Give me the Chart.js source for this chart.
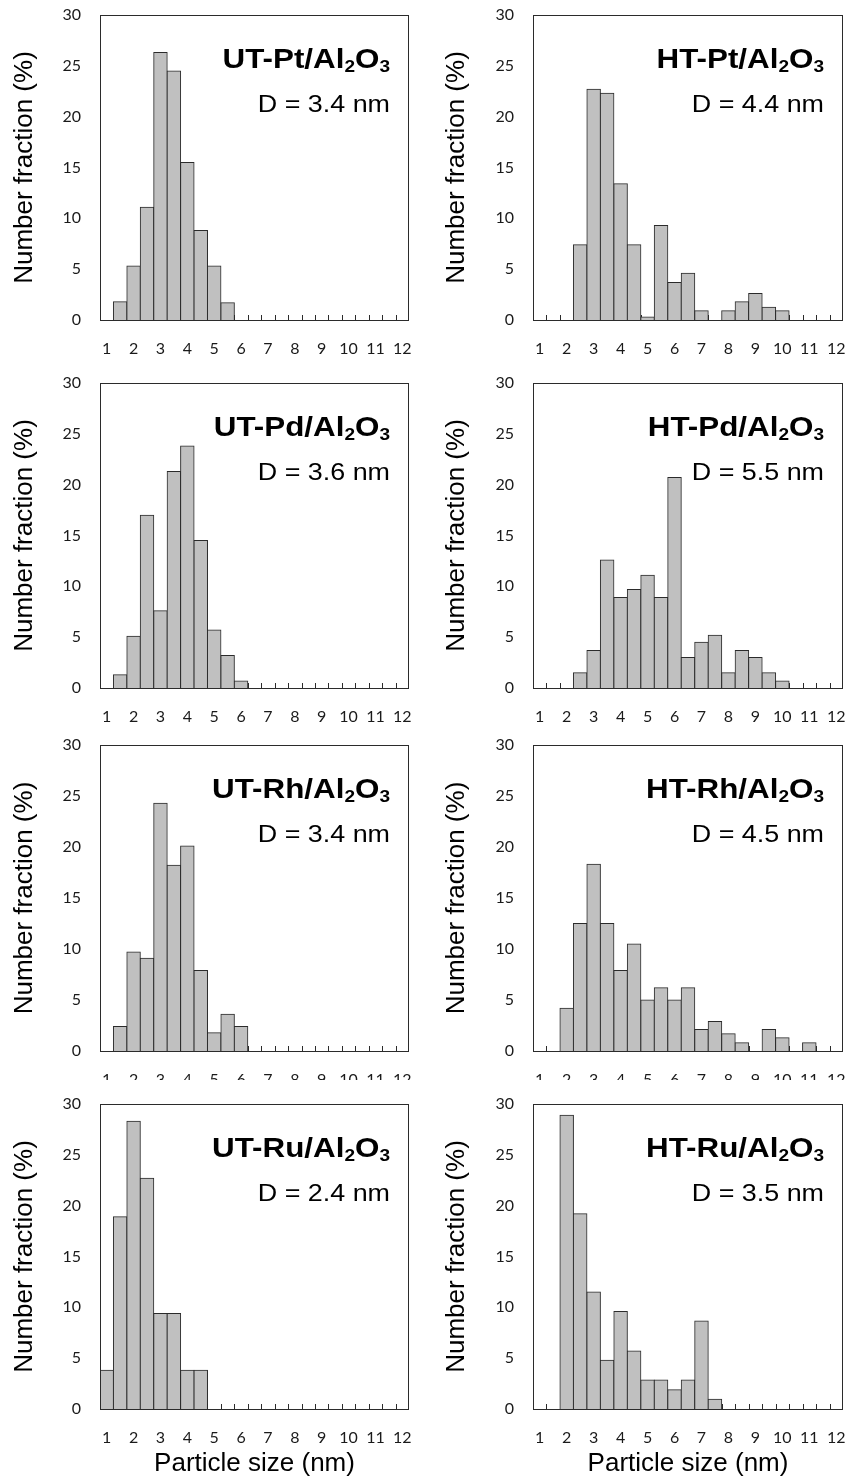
<!DOCTYPE html>
<html>
<head>
<meta charset="utf-8">
<script src="https://cdn.jsdelivr.net/npm/chart.js@4.4.1/dist/chart.umd.min.js"></script>
<style>
  html, body { margin: 0; padding: 0; background: #fff; }
  #page { position: relative; width: 848px; height: 1479px; overflow: hidden; }
  #page canvas { position: absolute; background: #fff; }
</style>
</head>
<body>
<div id="page"></div>
<script>
// size bins (nm), 0.5 nm wide
const sizes = [1, 1.5, 2, 2.5, 3, 3.5, 4, 4.5, 5, 5.5, 6, 6.5, 7, 7.5, 8, 8.5, 9, 9.5, 10, 10.5, 11, 11.5, 12];

// number fraction (%) per bin
const utPt = [0, 1.8, 5.3, 11.1, 26.3, 24.5, 15.5, 8.8, 5.3, 1.7, 0, 0, 0, 0, 0, 0, 0, 0, 0, 0, 0, 0, 0];
const htPt = [0, 0, 0, 7.4, 22.7, 22.3, 13.4, 7.4, 0.3, 9.3, 3.7, 4.6, 0.9, 0, 0.9, 1.8, 2.6, 1.25, 0.9, 0, 0, 0, 0];
const utPd = [0, 1.3, 5.1, 17.0, 7.6, 21.3, 23.8, 14.5, 5.7, 3.2, 0.7, 0, 0, 0, 0, 0, 0, 0, 0, 0, 0, 0, 0];
const htPd = [0, 0, 0, 1.5, 3.7, 12.6, 8.9, 9.7, 11.1, 8.9, 20.7, 3.0, 4.5, 5.2, 1.5, 3.7, 3.0, 1.5, 0.7, 0, 0, 0, 0];
const utRh = [0, 2.4, 9.7, 9.1, 24.3, 18.2, 20.1, 7.9, 1.8, 3.6, 2.4, 0, 0, 0, 0, 0, 0, 0, 0, 0, 0, 0, 0];
const htRh = [0, 0, 4.2, 12.5, 18.3, 12.5, 7.9, 10.5, 5.0, 6.2, 5.0, 6.2, 2.1, 2.9, 1.7, 0.8, 0, 2.1, 1.3, 0, 0.8, 0, 0];
const utRu = [3.8, 18.9, 28.3, 22.7, 9.4, 9.4, 3.8, 3.8, 0, 0, 0, 0, 0, 0, 0, 0, 0, 0, 0, 0, 0, 0, 0];
const htRu = [0, 0, 28.9, 19.2, 11.5, 4.8, 9.6, 5.7, 2.85, 2.85, 1.9, 2.85, 8.65, 0.95, 0, 0, 0, 0, 0, 0, 0, 0, 0];

// mean diameters (nm)
const utMean = ['3.4', '3.6', '3.4', '2.4'];
const htMean = ['4.4', '5.5', '4.5', '3.5'];
const metals = ['Pt', 'Pd', 'Rh', 'Ru'];

// y axis range
const yMin = 0;
const yMax = 30;
const yStep = 5;

const barFill = '#c0c0c0';
const lineColor = '#2b2b2b';
const textColor = '#1a1a1a';
const arial = "'Liberation Sans', Arial, sans-serif";
const textStretch = 1.12;

Chart.defaults.font.family = "Lato, 'Open Sans', sans-serif";
Chart.defaults.color = textColor;

const cols = [
  { x: 0, plotLeft: 100, plotRight: 409, yTitlePad: 9 },
  { x: 424, plotLeft: 533, plotRight: 843, yTitlePad: 17 }
];
const rows = [
  { top: 0, bottom: 368, plotTop: 15, plotBottom: 320 },
  { top: 368, bottom: 730, plotTop: 383, plotBottom: 688 },
  { top: 730, bottom: 1090, plotTop: 745, plotBottom: 1051 },
  { top: 1080, bottom: 1479, plotTop: 1104, plotBottom: 1409 }
];

const panels = [
  { row: 0, col: 0, kind: 'UT', values: utPt },
  { row: 0, col: 1, kind: 'HT', values: htPt },
  { row: 1, col: 0, kind: 'UT', values: utPd },
  { row: 1, col: 1, kind: 'HT', values: htPd },
  { row: 2, col: 0, kind: 'UT', values: utRh },
  { row: 2, col: 1, kind: 'HT', values: htRh },
  { row: 3, col: 0, kind: 'UT', values: utRu },
  { row: 3, col: 1, kind: 'HT', values: htRu }
];

// right-aligned run of text pieces, some of them subscripts
function drawRun(ctx, pieces, rightX, baseline) {
  ctx.save();
  ctx.translate(rightX, baseline);
  ctx.scale(textStretch, 1);
  ctx.fillStyle = '#000';
  ctx.textBaseline = 'alphabetic';
  ctx.textAlign = 'left';
  let total = 0;
  pieces.forEach(p => { ctx.font = p.font; p.w = ctx.measureText(p.text).width; total += p.w; });
  let x = -total;
  pieces.forEach(p => {
    ctx.font = p.font;
    ctx.fillText(p.text, x, p.dy || 0);
    x += p.w;
  });
  ctx.restore();
}

// plot frame, inward ticks between bins, sample name and mean size
const panelDecor = {
  id: 'panelDecor',
  beforeDatasetsDraw(chart) {
    const { ctx, chartArea: a, scales: { x } } = chart;
    ctx.save();
    ctx.strokeStyle = lineColor;
    ctx.lineWidth = 1;
    ctx.beginPath();
    for (let i = 1; i < sizes.length; i++) {
      const px = Math.round((x.getPixelForValue(i - 1) + x.getPixelForValue(i)) / 2) + 0.5;
      ctx.moveTo(px, a.bottom);
      ctx.lineTo(px, a.bottom - 5);
    }
    ctx.stroke();
    ctx.restore();
  },
  afterDraw(chart, args, opts) {
    const { ctx, chartArea: a } = chart;
    ctx.save();
    ctx.strokeStyle = lineColor;
    ctx.lineWidth = 1;
    ctx.strokeRect(Math.round(a.left) + 0.5, Math.round(a.top) + 0.5,
      Math.round(a.right - a.left) - 1, Math.round(a.bottom - a.top));
    ctx.restore();

    const bold = `bold 28px ${arial}`;
    const boldSub = `bold 17px ${arial}`;
    drawRun(ctx, [
      { text: `${opts.kind}-${opts.metal}/Al`, font: bold },
      { text: '2', font: boldSub, dy: 4 },
      { text: 'O', font: bold },
      { text: '3', font: boldSub, dy: 4 }
    ], a.right - 19, a.top + 53);
    drawRun(ctx, [{ text: `D = ${opts.mean} nm`, font: `24px ${arial}` }], a.right - 19, a.top + 96.5);
  }
};

const page = document.getElementById('page');

panels.forEach(p => {
  const col = cols[p.col];
  const row = rows[p.row];
  const canvas = document.createElement('canvas');
  canvas.width = 424;
  canvas.height = row.bottom - row.top;
  canvas.style.left = col.x + 'px';
  canvas.style.top = row.top + 'px';
  page.appendChild(canvas);

  const isBottom = p.row === rows.length - 1;

  new Chart(canvas, {
    type: 'bar',
    data: {
      labels: sizes,
      datasets: [{
        data: p.values,
        backgroundColor: barFill,
        borderColor: lineColor,
        borderWidth: 1,
        borderSkipped: 'start',
        inflateAmount: 0.5,
        categoryPercentage: 1,
        barPercentage: 1
      }]
    },
    options: {
      responsive: false,
      animation: false,
      devicePixelRatio: 1,
      layout: {
        autoPadding: false,
        padding: { top: row.plotTop - row.top, right: col.x + 424 - col.plotRight, bottom: 0, left: 0 }
      },
      plugins: {
        legend: { display: false },
        tooltip: { enabled: false },
        panelDecor: {
          kind: p.kind,
          metal: metals[p.row],
          mean: p.kind === 'UT' ? utMean[p.row] : htMean[p.row]
        }
      },
      scales: {
        x: {
          grid: { display: false, drawTicks: false },
          border: { display: false },
          ticks: {
            autoSkip: false,
            maxRotation: 0,
            minRotation: 0,
            padding: 19,
            font: { size: 16 },
            callback: (v, i) => Number.isInteger(sizes[i]) ? String(sizes[i]) : ''
          },
          title: {
            display: isBottom,
            text: 'Particle size (nm)',
            color: '#000',
            font: { family: arial, size: 26 },
            padding: { top: 0, bottom: 0 }
          },
          afterFit: s => {
            s.height = row.bottom - row.plotBottom;
            s.paddingLeft = 0;
            s.paddingRight = 0;
          }
        },
        y: {
          min: yMin,
          max: yMax,
          grid: { display: false, drawTicks: false },
          border: { display: false },
          ticks: { stepSize: yStep, padding: 19, font: { size: 16 } },
          title: {
            display: true,
            text: 'Number fraction (%)',
            color: '#000',
            font: { family: arial, size: 26 },
            padding: { top: col.yTitlePad, bottom: 0 }
          },
          afterFit: s => {
            s.width = col.plotLeft - col.x;
            s.paddingTop = 0;
            s.paddingBottom = 0;
          }
        }
      }
    },
    plugins: [panelDecor]
  });
});
</script>
</body>
</html>
